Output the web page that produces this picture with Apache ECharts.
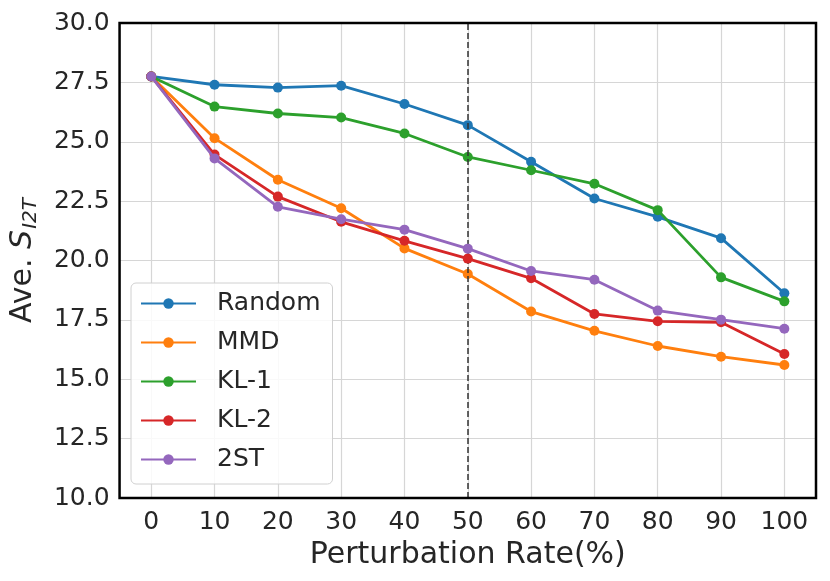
<!DOCTYPE html>
<html>
<head>
<meta charset="utf-8">
<script src="https://cdn.jsdelivr.net/npm/echarts@6/dist/echarts.min.js"></script>
<style>html,body{margin:0;padding:0;background:#fff}#c{width:830px;height:581px}</style>
</head>
<body>
<div id="c"></div>
<script>
const categories = ['0','10','20','30','40','50','60','70','80','90','100'];
const randomVals = [27.75, 27.40, 27.28, 27.36, 26.59, 25.70, 24.16, 22.61, 21.84, 20.94, 18.62];
const mmdVals    = [27.75, 25.15, 23.40, 22.20, 20.51, 19.43, 17.85, 17.04, 16.40, 15.95, 15.60];
const kl1Vals    = [27.75, 26.48, 26.19, 26.02, 25.35, 24.36, 23.80, 23.23, 22.12, 19.29, 18.28];
const kl2Vals    = [27.75, 24.46, 22.69, 21.63, 20.83, 20.08, 19.25, 17.75, 17.44, 17.40, 16.06];
const st2Vals    = [27.75, 24.30, 22.26, 21.74, 21.30, 20.50, 19.56, 19.19, 17.89, 17.51, 17.13];
const yTicks = {min: 10, max: 30, step: 2.5};
const dashedAt = '50';

const FONT = 'DejaVu Sans';
const TXT = '#262626';
const colors = ['#1f77b4', '#ff7f0e', '#2ca02c', '#d62728', '#9467bd'];
const names = ['Random', 'MMD', 'KL-1', 'KL-2', '2ST'];
const dataSets = [randomVals, mmdVals, kl1Vals, kl2Vals, st2Vals];

const series = dataSets.map((d, i) => ({
  name: names[i],
  type: 'line',
  data: d,
  symbol: 'circle',
  symbolSize: 10,
  showSymbol: true,
  lineStyle: {width: 2.8, color: colors[i]},
  itemStyle: {color: colors[i]},
  z: 2 + i,
  animation: false
}));
series[0].markLine = {
  silent: true,
  symbol: 'none',
  label: {show: false},
  lineStyle: {color: '#333', type: [6, 3], width: 1.5},
  data: [{xAxis: dashedAt}],
  animation: false
};

const chart = echarts.init(document.getElementById('c'));
chart.setOption({
  animation: false,
  color: colors,
  grid: {left: 117, right: 14, top: 23, bottom: 83, show: true, borderColor: '#000', borderWidth: 2.5, backgroundColor: 'transparent', z: 10},
  xAxis: {
    type: 'category',
    data: categories,
    boundaryGap: true,
    axisLine: {show: false},
    axisTick: {show: false, alignWithLabel: true},
    splitLine: {show: true, alignWithLabel: true, lineStyle: {color: '#d6d6d6', width: 1.2}},
    axisLabel: {fontFamily: FONT, fontSize: 25, color: TXT, margin: 12},
    name: 'Perturbation Rate(%)',
    nameLocation: 'middle',
    nameGap: 33,
    nameTextStyle: {fontFamily: FONT, fontSize: 30, color: TXT}
  },
  yAxis: {
    type: 'value',
    min: yTicks.min,
    max: yTicks.max,
    interval: yTicks.step,
    axisLine: {show: false},
    axisTick: {show: false},
    splitLine: {show: true, lineStyle: {color: '#d6d6d6', width: 1.2}},
    axisLabel: {fontFamily: FONT, fontSize: 25, color: TXT, margin: 10, formatter: v => v.toFixed(1)},
    name: 'Ave. {s|S}{sub|I2T}',
    nameLocation: 'middle',
    nameRotate: 90,
    nameGap: 72,
    nameTextStyle: {
      fontFamily: FONT, fontSize: 30, color: TXT,
      rich: {
        s: {fontFamily: FONT, fontSize: 30, fontStyle: 'italic', color: TXT, lineHeight: 40, verticalAlign: 'middle'},
        sub: {fontFamily: FONT, fontSize: 20, fontStyle: 'italic', color: TXT, lineHeight: 40, verticalAlign: 'bottom', padding: [0, 0, 2, 1]}
      }
    }
  },
  legend: {
    orient: 'vertical',
    left: 131,
    top: 283,
    padding: [8, 12, 12, 9],
    itemWidth: 55,
    itemHeight: 13,
    itemGap: 14,
    backgroundColor: 'rgba(255,255,255,0.85)',
    borderColor: '#d0d0d0',
    borderWidth: 1,
    borderRadius: 5,
    textStyle: {fontFamily: FONT, fontSize: 25, color: TXT, padding: [0, 0, 0, 16]},
    data: names
  },
  series: series
});
</script>
</body>
</html>
